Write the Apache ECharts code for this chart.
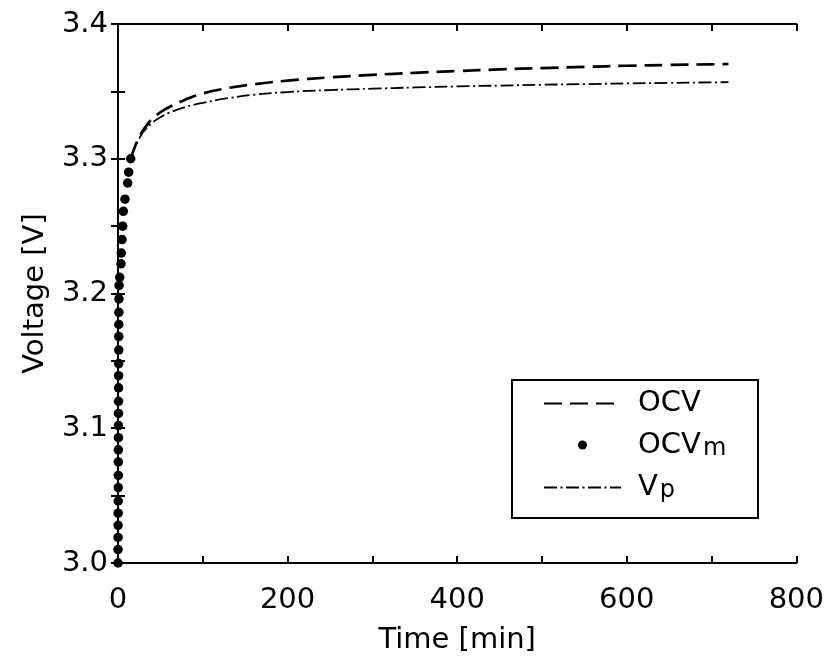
<!DOCTYPE html>
<html>
<head>
<meta charset="utf-8">
<script src="https://cdn.jsdelivr.net/npm/echarts@6/dist/echarts.min.js"></script>
<style>html,body{margin:0;padding:0;background:#fff}#c{width:827px;height:662px}</style>
</head>
<body>
<div id="c"></div>
<script>
// Measured OCV (dots)
const ocvmTime = [0,0.05,0.1,0.15,0.2,0.25,0.3,0.35,0.4,0.45,0.5,0.55,0.6,0.65,0.7,0.75,0.8,0.85,0.9,0.95,1.0,1.1,1.3,2.0,3.5,3.9,4.7,5.5,6.3,8.2,11.4,12.6,15];
const ocvmVolt = [3.000,3.010,3.019,3.028,3.037,3.046,3.056,3.065,3.075,3.084,3.093,3.102,3.111,3.120,3.130,3.139,3.148,3.158,3.168,3.177,3.186,3.196,3.206,3.212,3.222,3.230,3.240,3.250,3.261,3.270,3.282,3.290,3.300];
// Curves
const curveTime = [15,20,25,30,40,50,60,80,100,130,160,200,250,300,350,400,450,500,550,600,650,700,720];
const ocvVolt = [3.3000,3.3090,3.3160,3.3215,3.3295,3.3345,3.3382,3.3440,3.3485,3.3525,3.3553,3.3580,3.3604,3.3622,3.3638,3.3651,3.3663,3.3673,3.3682,3.3690,3.3696,3.3701,3.3703];
const vpVolt  = [3.3000,3.3088,3.3150,3.3200,3.3265,3.3308,3.3340,3.3385,3.3415,3.3450,3.3475,3.3495,3.3510,3.3520,3.3529,3.3537,3.3543,3.3549,3.3554,3.3559,3.3563,3.3567,3.3568];
const xTicks = [0,200,400,600,800];
const yTicks = [3.0,3.1,3.2,3.3,3.4];

const zip = (a,b) => a.map((v,i)=>[v,b[i]]);
const FONT = 'DejaVu Sans';
const tickStyle = {show:true, inside:true, length:7, lineStyle:{color:'#000', width:2}};
const lineStyleAx = {show:true, lineStyle:{color:'#000', width:2}};

const chart = echarts.init(document.getElementById('c'));
chart.setOption({
  backgroundColor:'#fff',
  animation:false,
  grid:{left:118, right:30, top:24, bottom:99, containLabel:false},
  xAxis:[{
    type:'value', min:0, max:800, interval:100, position:'bottom',
    axisLine:lineStyleAx, axisTick:tickStyle, splitLine:{show:false},
    axisLabel:{color:'#000', fontFamily:FONT, fontSize:29, margin:23,
      formatter:v => xTicks.includes(v) ? String(v) : ''},
    name:'Time [min]', nameLocation:'middle', nameGap:63,
    nameTextStyle:{color:'#000', fontFamily:FONT, fontSize:29}
  },{
    type:'value', min:0, max:800, interval:100, position:'top',
    axisLine:lineStyleAx, axisTick:tickStyle, splitLine:{show:false}, axisLabel:{show:false}
  }],
  yAxis:[{
    type:'value', min:3.0, max:3.4, interval:0.05, position:'left',
    axisLine:lineStyleAx, axisTick:tickStyle, splitLine:{show:false},
    axisLabel:{color:'#000', fontFamily:FONT, fontSize:29, margin:10,
      formatter:v => yTicks.some(t=>Math.abs(t-v)<1e-6) ? v.toFixed(1) : ''},
    name:'Voltage [V]', nameLocation:'middle', nameGap:68,
    nameTextStyle:{color:'#000', fontFamily:FONT, fontSize:29}
  },{
    type:'value', min:3.0, max:3.4, interval:0.05, position:'right',
    axisLine:lineStyleAx, axisTick:tickStyle, splitLine:{show:false}, axisLabel:{show:false}
  }],
  legend:{
    orient:'vertical', left:543, top:389, padding:0, itemGap:12.5,
    itemWidth:77, itemHeight:9,
    data:[
      {name:'OCV', itemStyle:{opacity:0}},
      {name:'OCVm'},
      {name:'Vp', itemStyle:{opacity:0}}
    ],
    formatter: n => n==='OCV' ? '{a|OCV}' : (n==='OCVm' ? '{a|OCV}{s|m}' : '{a|V}{s|p}'),
    textStyle:{
      padding:[0,0,0,12],
      rich:{
        a:{fontFamily:FONT, fontSize:29, color:'#000', lineHeight:31},
        s:{fontFamily:FONT, fontSize:24, color:'#000', lineHeight:6, verticalAlign:'bottom', padding:[0,0,0,2]}
      }
    }
  },
  graphic:[{
    type:'rect', shape:{x:512, y:380, width:246, height:138},
    style:{fill:'none', stroke:'#000', lineWidth:2}, z:100
  }],
  series:[
    {name:'OCV', type:'line', data:zip(curveTime, ocvVolt), showSymbol:false, symbol:'none', smooth:0.4,
      lineStyle:{color:'#000', width:2.7, type:[18,8]}, itemStyle:{color:'#000'}, z:2},
    {name:'Vp', type:'line', data:zip(curveTime, vpVolt), showSymbol:false, symbol:'none', smooth:0.4,
      lineStyle:{color:'#000', width:1.8, type:[13,3.5,2,3.5]}, itemStyle:{color:'#000'}, z:2},
    {name:'OCVm', type:'scatter', data:zip(ocvmTime, ocvmVolt), symbol:'circle', symbolSize:9.5,
      itemStyle:{color:'#000', opacity:1}, z:3}
  ]
});
</script>
</body>
</html>
